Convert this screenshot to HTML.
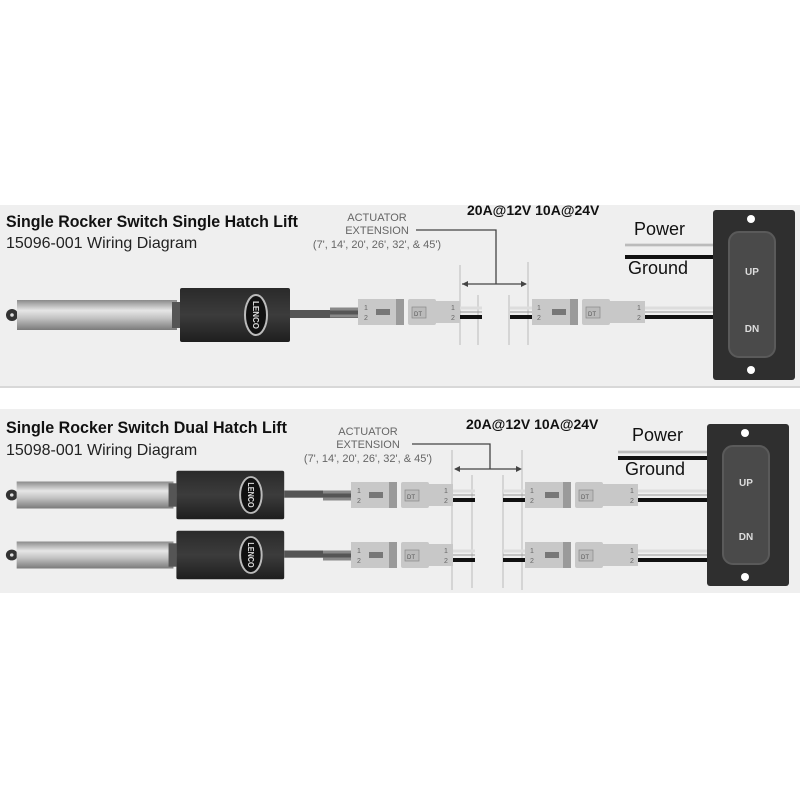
<!DOCTYPE html>
<html><head><meta charset="utf-8"><style>
html,body{margin:0;padding:0;background:#fff;width:800px;height:800px;overflow:hidden}
svg{display:block}
text{font-family:"Liberation Sans",sans-serif}
</style></head><body>
<svg width="800" height="800" viewBox="0 0 800 800" xmlns="http://www.w3.org/2000/svg">
<defs>
<linearGradient id="rod" x1="0" y1="0" x2="0" y2="1">
<stop offset="0" stop-color="#8a8a8a"/><stop offset="0.35" stop-color="#e6e6e6"/><stop offset="0.6" stop-color="#c4c4c4"/><stop offset="1" stop-color="#7a7a7a"/></linearGradient>
<linearGradient id="body" x1="0" y1="0" x2="0" y2="1">
<stop offset="0" stop-color="#2a2a2a"/><stop offset="0.5" stop-color="#3c3c3c"/><stop offset="1" stop-color="#1e1e1e"/></linearGradient>
<g id="act">
<circle cx="12" cy="0" r="6" fill="#333"/><circle cx="12" cy="0" r="1.8" fill="#ddd"/>
<rect x="17" y="-15" width="160" height="30" fill="url(#rod)"/>
<rect x="172" y="-13" width="8" height="26" fill="#555"/>
<rect x="180" y="-27" width="110" height="54" rx="2" fill="url(#body)"/>
<ellipse cx="256" cy="0" rx="11" ry="20" fill="#111" stroke="#bbb" stroke-width="2"/>
<text x="256" y="3" font-size="8" font-weight="bold" fill="#ddd" text-anchor="middle" transform="rotate(90 256 0)">LENCO</text>
<rect x="290" y="-5" width="70" height="8" fill="#555"/>
</g>
<g id="row">
<path d="M330 -4 L358 -4 M330 3 L358 3" stroke="#888" stroke-width="3"/>
<rect x="358" y="-14" width="38" height="26" fill="#c8c8c8"/>
<rect x="396" y="-14" width="8" height="26" fill="#9a9a9a"/>
<rect x="376" y="-4" width="14" height="6" fill="#777"/>
<text x="364" y="-3" font-size="7" fill="#666">1</text><text x="364" y="7" font-size="7" fill="#666">2</text>
<rect x="408" y="-14" width="28" height="26" rx="2" fill="#c8c8c8"/>
<rect x="412" y="-6" width="14" height="11" fill="#bbb" stroke="#888" stroke-width="0.7"/>
<text x="414" y="3" font-size="6" fill="#555">DT</text>
<rect x="436" y="-12" width="24" height="22" fill="#c8c8c8"/>
<text x="451" y="-3" font-size="7" fill="#666">1</text><text x="451" y="7" font-size="7" fill="#666">2</text>
<path d="M460 -5 L482 -5" stroke="#ddd" stroke-width="3"/><path d="M460 -1 L482 -1" stroke="#999" stroke-width="1"/>
<path d="M460 4 L482 4" stroke="#111" stroke-width="4"/>
<path d="M510 -5 L532 -5" stroke="#ddd" stroke-width="3"/><path d="M510 -1 L532 -1" stroke="#999" stroke-width="1"/>
<path d="M510 4 L532 4" stroke="#111" stroke-width="4"/>
<rect x="532" y="-14" width="38" height="26" fill="#c8c8c8"/>
<rect x="570" y="-14" width="8" height="26" fill="#9a9a9a"/>
<rect x="552" y="-4" width="14" height="6" fill="#777"/>
<text x="537" y="-3" font-size="7" fill="#666">1</text><text x="537" y="7" font-size="7" fill="#666">2</text>
<rect x="582" y="-14" width="28" height="26" rx="2" fill="#c8c8c8"/>
<rect x="586" y="-6" width="14" height="11" fill="#bbb" stroke="#888" stroke-width="0.7"/>
<text x="588" y="3" font-size="6" fill="#555">DT</text>
<rect x="610" y="-12" width="35" height="22" fill="#c8c8c8"/>
<text x="637" y="-3" font-size="7" fill="#666">1</text><text x="637" y="7" font-size="7" fill="#666">2</text>
<path d="M645 -5 L715 -5" stroke="#ddd" stroke-width="3"/><path d="M645 -1 L715 -1" stroke="#999" stroke-width="1"/>
<path d="M645 4 L715 4" stroke="#111" stroke-width="4"/>
</g>
</defs>

<rect x="0" y="205" width="800" height="182" fill="#efefef"/>
<rect x="0" y="386" width="800" height="2" fill="#d8d8d8"/>
<text x="6" y="227" font-size="17" font-weight="bold" fill="#111" textLength="292" lengthAdjust="spacingAndGlyphs">Single Rocker Switch Single Hatch Lift</text>
<text x="6" y="248" font-size="16" fill="#222">15096-001 Wiring Diagram</text>
<text x="377" y="221" font-size="11" fill="#666" text-anchor="middle">ACTUATOR</text>
<text x="377" y="234" font-size="11" fill="#666" text-anchor="middle">EXTENSION</text>
<text x="377" y="248" font-size="11" fill="#666" text-anchor="middle">(7', 14', 20', 26', 32', &amp; 45')</text>
<path d="M416 230 L496 230 L496 284" stroke="#444" stroke-width="1.3" fill="none"/>
<path d="M462 284 L526 284" stroke="#444" stroke-width="1.3"/>
<path d="M462 284 l6 -3 v6z M527 284 l-6 -3 v6z" fill="#444"/>
<path d="M460 265 V345 M528 262 V345 M478 295 V345 M509 295 V345" stroke="#bbb" stroke-width="1"/>
<text x="467" y="215" font-size="14" font-weight="bold" fill="#111">20A@12V  10A@24V</text>
<text x="634" y="235" font-size="18" fill="#111">Power</text>
<text x="628" y="274" font-size="18" fill="#111">Ground</text>
<path d="M625 245 L715 245" stroke="#ddd" stroke-width="4"/><path d="M625 245 L715 245" stroke="#999" stroke-width="1"/>
<path d="M625 257 L715 257" stroke="#111" stroke-width="4"/>
<use href="#act" transform="translate(0 315)"/>
<use href="#row" transform="translate(0 313)"/>
<rect x="713" y="210" width="82" height="170" rx="3" fill="#2f2f2f"/>
<circle cx="751" cy="219" r="4" fill="#fff"/><circle cx="751" cy="370" r="4" fill="#fff"/>
<rect x="729" y="232" width="46" height="125" rx="10" fill="#4a4a4a" stroke="#5a5a5a" stroke-width="2"/>
<text x="752" y="275" font-size="10" font-weight="bold" fill="#ddd" text-anchor="middle">UP</text>
<text x="752" y="332" font-size="10" font-weight="bold" fill="#ddd" text-anchor="middle">DN</text>

<rect x="0" y="409" width="800" height="184" fill="#efefef"/>
<text x="6" y="433" font-size="17" font-weight="bold" fill="#111" textLength="281" lengthAdjust="spacingAndGlyphs">Single Rocker Switch Dual Hatch Lift</text>
<text x="6" y="455" font-size="16" fill="#222">15098-001 Wiring Diagram</text>
<text x="368" y="435" font-size="11" fill="#666" text-anchor="middle">ACTUATOR</text>
<text x="368" y="448" font-size="11" fill="#666" text-anchor="middle">EXTENSION</text>
<text x="368" y="462" font-size="11" fill="#666" text-anchor="middle">(7', 14', 20', 26', 32', &amp; 45')</text>
<path d="M412 444 L490 444 L490 469" stroke="#444" stroke-width="1.3" fill="none"/>
<path d="M455 469 L520 469" stroke="#444" stroke-width="1.3"/>
<path d="M454 469 l6 -3 v6z M522 469 l-6 -3 v6z" fill="#444"/>
<path d="M452 450 V590 M522 450 V590 M472 475 V588 M503 475 V588" stroke="#bbb" stroke-width="1"/>
<text x="466" y="429" font-size="14" font-weight="bold" fill="#111">20A@12V  10A@24V</text>
<text x="632" y="441" font-size="18" fill="#111">Power</text>
<text x="625" y="475" font-size="18" fill="#111">Ground</text>
<path d="M618 452 L710 452" stroke="#ddd" stroke-width="4"/><path d="M618 452 L710 452" stroke="#999" stroke-width="1"/>
<path d="M618 458 L710 458" stroke="#111" stroke-width="4"/>
<use href="#act" transform="translate(0 495) scale(0.98 0.9)"/>
<use href="#act" transform="translate(0 555) scale(0.98 0.9)"/>
<use href="#row" transform="translate(-7 496)"/>
<use href="#row" transform="translate(-7 556)"/>
<rect x="707" y="424" width="82" height="162" rx="3" fill="#2f2f2f"/>
<circle cx="745" cy="433" r="4" fill="#fff"/><circle cx="745" cy="577" r="4" fill="#fff"/>
<rect x="723" y="446" width="46" height="118" rx="10" fill="#4a4a4a" stroke="#5a5a5a" stroke-width="2"/>
<text x="746" y="486" font-size="10" font-weight="bold" fill="#ddd" text-anchor="middle">UP</text>
<text x="746" y="540" font-size="10" font-weight="bold" fill="#ddd" text-anchor="middle">DN</text>
</svg>
</body></html>
